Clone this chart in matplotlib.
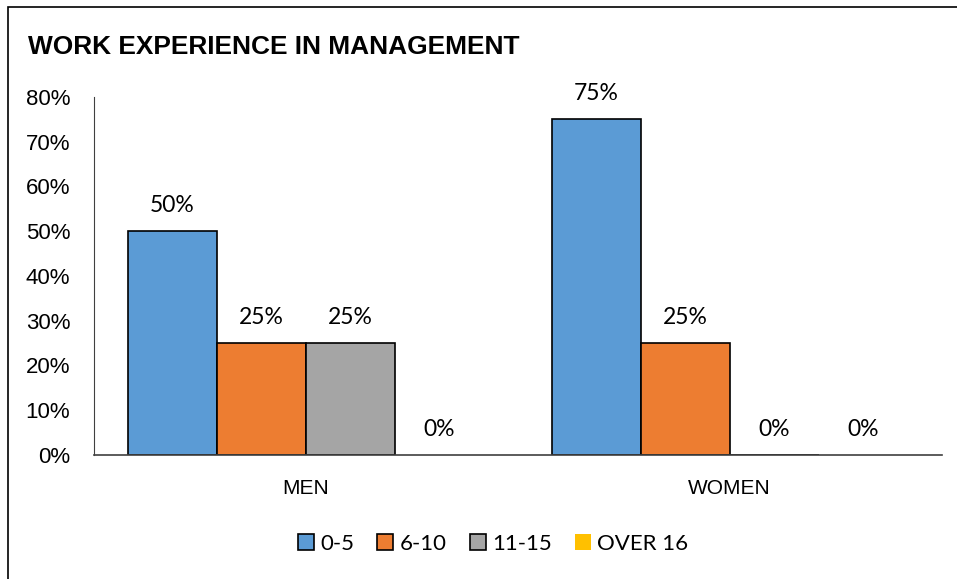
import numpy as np
import matplotlib.pyplot as plt
from matplotlib.patches import Rectangle, Patch
from matplotlib.ticker import PercentFormatter

groups = ['MEN', 'WOMEN']
series = ['0-5', '6-10', '11-15', 'OVER 16']
values = {
    '0-5': [50, 75],
    '6-10': [25, 25],
    '11-15': [25, 0],
    'OVER 16': [0, 0],
}
colors = ['#5B9BD5', '#ED7D31', '#A5A5A5', '#FFC000']

arial = ['Liberation Sans', 'DejaVu Sans']
body = ['Lato', 'DejaVu Sans']

fig = plt.figure(figsize=(9.57, 5.79), dpi=100)
ax = fig.add_axes([0.0982, 0.2142, 0.8858, 0.6183])

x = np.arange(len(groups))
w = 0.21
for i, s in enumerate(series):
    pos = x + (i - 1.5) * w
    vals = values[s]
    ec = 'black' if any(vals) else 'none'
    ax.bar(pos, vals, w, color=colors[i], edgecolor=ec, linewidth=1.2, zorder=2)
    for p, v in zip(pos, vals):
        ax.annotate(f'{v}%', (p, v), xytext=(0, 18.5), textcoords='offset points',
                    ha='center', va='center', fontsize=16.5, family=body)

ax.set_xlim(-0.5, 1.5)
ax.set_ylim(0, 80)
ax.set_yticks(range(0, 81, 10))
ax.yaxis.set_major_formatter(PercentFormatter(decimals=0))
ax.set_xticks(x)
ax.set_xticklabels(groups, fontsize=15, family=arial)
ax.tick_params(axis='y', length=0, pad=17, labelsize=16)
ax.tick_params(axis='x', length=0, pad=17)
for lab in ax.get_yticklabels():
    lab.set_family(arial)
for side in ['top', 'right']:
    ax.spines[side].set_visible(False)
ax.spines['left'].set_color('#404040')
ax.spines['bottom'].set_color('#404040')
ax.spines['bottom'].set_linewidth(1.2)

fig.text(28 / 957, 1 - 47 / 579, 'WORK EXPERIENCE IN MANAGEMENT', fontsize=18.9,
         fontweight='bold', family=arial, va='center', ha='left')

handles = [Patch(facecolor=colors[i], edgecolor='black' if i < 3 else 'none', linewidth=1.2)
           for i in range(4)]
fig.legend(handles, series, loc='center', bbox_to_anchor=(493 / 957, 1 - 544 / 579),
           ncol=4, frameon=False, prop={'family': body, 'size': 16},
           handlelength=0.72, handleheight=0.72, handletextpad=0.27, columnspacing=1.05)

fig.patches.append(Rectangle((8 / 957, -0.1), 1.2, 1 - 7 / 579 + 0.1, transform=fig.transFigure,
                             fill=False, edgecolor='black', linewidth=1.2))

fig.savefig('out.png', dpi=100)
